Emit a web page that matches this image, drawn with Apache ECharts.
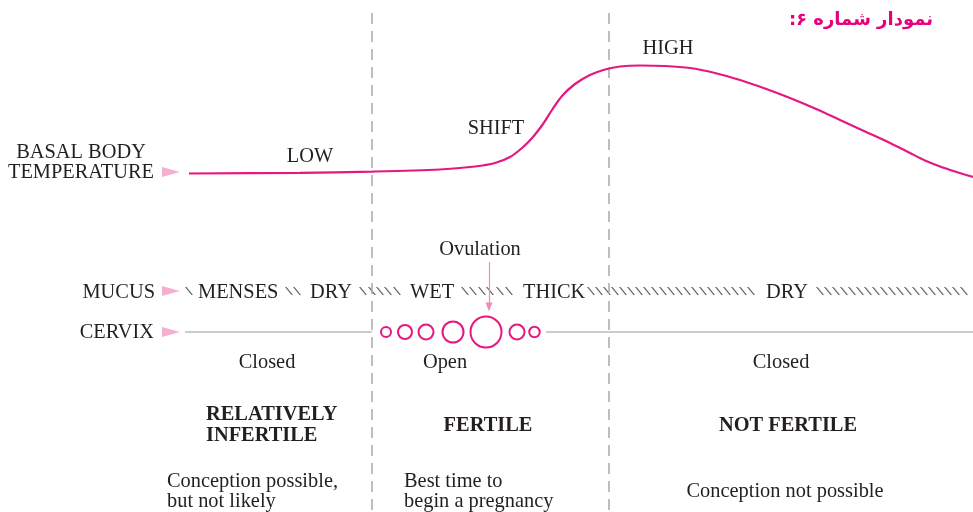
<!DOCTYPE html>
<html>
<head>
<meta charset="utf-8">
<script src="https://cdn.jsdelivr.net/npm/echarts@6/dist/echarts.min.js"></script>
<style>
  html, body { margin: 0; padding: 0; background: #fff; }
  #chart { width: 973px; height: 512px; }
</style>
</head>
<body>
<div id="chart"></div>
<script>
// basal body temperature curve: position along the cycle / level (0 = top)
const tempX = [189, 300, 372, 440, 475, 495, 510, 522, 533, 543, 552, 562, 575, 590, 605, 620, 640, 665, 690, 715, 740, 765, 790, 815, 840, 865, 890, 910, 925, 940, 955, 973];
const tempY = [173.5, 172.8, 171.6, 169.5, 166.5, 163, 157, 148, 137, 124, 110, 96, 84, 75, 69.5, 66.5, 65.5, 66, 68, 73, 80, 88.5, 98, 108.5, 120, 131.5, 143, 153, 160.5, 166.5, 171.5, 177];

// phase boundaries (dashed lines)
const phaseBounds = [372, 609];

// cervix openings (diameter of each circle)
const cervixX = [386, 405, 426, 453, 486, 517, 534.5];
const cervixDiam = [10, 14, 15, 21, 31, 15, 10.5];

// mucus hatch marks
const hatchX = [189, 289, 297, 363, 372, 380, 388, 397, 465, 473, 482, 490, 500, 509,
  591, 599, 607, 615, 623, 631, 639, 647, 655, 663, 671, 679, 687, 695, 703, 711, 719, 727, 735, 743, 751,
  820, 828, 836, 844, 852, 860, 868, 876, 884, 892, 900, 908, 916, 924, 932, 940, 948, 956, 964];

const ovulationX = 489;
const rowY = { temp: 172, mucus: 291, cervix: 332 };

const pink = '#e6177f';
const arrowPink = '#f39cc3';
const ink = '#231f20';
const serif = '"Liberation Serif", "Times New Roman", serif';

let instance = echarts.init(document.getElementById('chart'));

function txt(x, y, text, opts) {
  return {
    type: 'text', x: x, y: y + 2, silent: true,
    style: Object.assign({
      text: text, fill: ink, font: '20.4px ' + serif,
      textAlign: 'left', textVerticalAlign: 'middle'
    }, opts || {})
  };
}
const bold = { font: 'bold 20.4px ' + serif };

let series = [];

phaseBounds.forEach(b => {
  series.push({
    type: 'line', silent: true, symbol: 'none',
    data: [[b, 13], [b, 512]],
    lineStyle: { color: '#a9a9a9', width: 1.5, type: [11, 7] }
  });
});

series.push({
  type: 'line', silent: true, symbol: 'none',
  data: [[185, rowY.cervix], [phaseBounds[0], rowY.cervix]],
  lineStyle: { color: '#9a9a9a', width: 1.2 }
}, {
  type: 'line', silent: true, symbol: 'none',
  data: [[546, rowY.cervix], [973, rowY.cervix]],
  lineStyle: { color: '#9a9a9a', width: 1.2 }
});

series.push({
  name: 'temperature', type: 'line', symbol: 'none', smooth: 0.3,
  data: tempX.map((x, i) => [x, tempY[i]]),
  lineStyle: { color: pink, width: 2.2 }
});

series.push({
  name: 'cervix', type: 'scatter', symbol: 'circle',
  data: cervixX.map((x, i) => [x, rowY.cervix, cervixDiam[i]]),
  symbolSize: v => v[2],
  itemStyle: { color: 'rgba(255,255,255,0)', borderColor: pink, borderWidth: 2, opacity: 1 }
});

series.push({
  name: 'mucus', type: 'scatter', silent: true,
  symbol: 'path://M0,0L1.5,0L8,8L6.5,8Z', symbolSize: [8, 8],
  data: hatchX.map(x => [x, rowY.mucus]),
  itemStyle: { color: '#3a3a3a' }
});

series.push({
  name: 'pointers', type: 'scatter', silent: true,
  symbol: 'path://M0,0L18,5L0,10Z', symbolSize: [18, 10],
  data: [[171, rowY.temp], [171, rowY.mucus], [171, rowY.cervix]],
  itemStyle: { color: arrowPink }
});

series.push({
  type: 'line', silent: true, symbol: 'none', data: [],
  markLine: {
    silent: true, symbol: ['none', 'triangle'], symbolSize: [7, 9],
    label: { show: false },
    lineStyle: { color: '#f08cbb', width: 1.2, type: 'solid' },
    data: [[{ coord: [ovulationX, 262] }, { coord: [ovulationX, 307] }]]
  }
});

instance.setOption({
  animation: false,
  grid: { left: 0, right: 0, top: 0, bottom: 0 },
  xAxis: { type: 'value', min: 0, max: 973, show: false },
  yAxis: { type: 'value', min: 0, max: 512, inverse: true, show: false },
  series: series,
  graphic: [
    txt(933, 18, 'نمودار شماره ۶:\u200F', { font: 'bold 18px "DejaVu Sans"', fill: '#e6007e', textAlign: 'right' }),
    txt(81, 151, 'BASAL BODY', { textAlign: 'center' }),
    txt(81, 171, 'TEMPERATURE', { textAlign: 'center' }),
    txt(310, 155, 'LOW', { textAlign: 'center' }),
    txt(496, 127, 'SHIFT', { textAlign: 'center' }),
    txt(668, 47, 'HIGH', { textAlign: 'center' }),
    txt(480, 248, 'Ovulation', { textAlign: 'center' }),
    txt(155, 291, 'MUCUS', { textAlign: 'right' }),
    txt(198, 291, 'MENSES'),
    txt(310, 291, 'DRY'),
    txt(410, 291, 'WET'),
    txt(523, 291, 'THICK'),
    txt(766, 291, 'DRY'),
    txt(154, 331, 'CERVIX', { textAlign: 'right' }),
    txt(267, 361, 'Closed', { textAlign: 'center' }),
    txt(445, 361, 'Open', { textAlign: 'center' }),
    txt(781, 361, 'Closed', { textAlign: 'center' }),
    txt(206, 413, 'RELATIVELY', bold),
    txt(206, 434, 'INFERTILE', bold),
    txt(488, 424, 'FERTILE', Object.assign({ textAlign: 'center' }, bold)),
    txt(788, 424, 'NOT FERTILE', Object.assign({ textAlign: 'center' }, bold)),
    txt(167, 480, 'Conception possible,'),
    txt(167, 500, 'but not likely'),
    txt(404, 480, 'Best time to'),
    txt(404, 500, 'begin a pregnancy'),
    txt(785, 490, 'Conception not possible', { textAlign: 'center' })
  ]
});

window.onresize = () => {
  instance.resize();
};
</script>
</body>
</html>
